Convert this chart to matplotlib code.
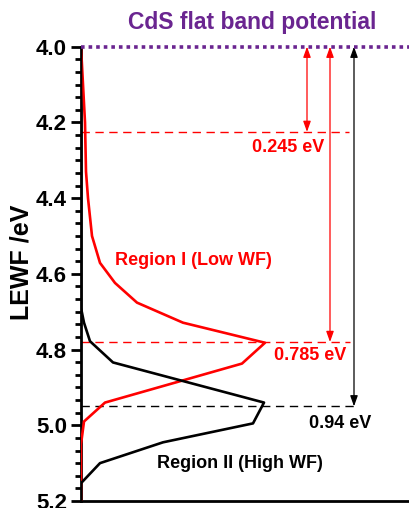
import numpy as np
import matplotlib
matplotlib.use("Agg")
import matplotlib.pyplot as plt
from matplotlib.ticker import MultipleLocator, AutoMinorLocator

plt.rcParams['font.family'] = ['Liberation Sans', 'DejaVu Sans']
plt.rcParams['font.weight'] = 'bold'

# Region I (low WF) distribution: LEWF (eV) vs. counts
red_lewf = [4.0, 4.2, 4.33, 4.4, 4.5, 4.571, 4.624, 4.676, 4.729, 4.782, 4.837, 4.94, 4.99, 5.05, 5.2]
red_count = [0, 4, 5, 7, 11, 19, 34, 56, 102, 184, 161, 24, 3, 0, 0]

# Region II (high WF) distribution
blk_lewf = [4.0, 4.69, 4.729, 4.778, 4.834, 4.94, 4.995, 5.045, 5.1, 5.153, 5.2]
blk_count = [0, 0, 3, 9, 32, 183, 172, 82, 19, 0, 0]

flat_band = 4.0
peak_lewf = [4.225, 4.78, 4.95]        # dashed reference levels
peak_labels = ["0.245 eV", "0.785 eV", "0.94 eV"]
peak_colors = ["red", "red", "black"]

W, H = 409, 508
fig = plt.figure(figsize=(W / 100, H / 100), dpi=100)
ax = fig.add_axes([81 / W, 1 - 501 / H, 328 / W, (501 - 46.7) / H])

ax.plot(red_count, red_lewf, color='red', lw=1.9, zorder=3)
ax.plot(blk_count, blk_lewf, color='black', lw=1.9, zorder=3)

# flat band potential line
ax.axhline(flat_band, color='#6a2590', lw=2.6, ls=(0, (1, 1.1)), zorder=4, clip_on=False)

# dashed levels
dash_ends = [268, 269, 276]
for lv, xe, c in zip(peak_lewf, dash_ends, peak_colors):
    ax.plot([0, xe], [lv, lv], color=c, lw=1.0, ls=(0, (6, 4)), zorder=2)

# arrows from flat band to each level
arrow_x = [226, 249, 273]
for lv, xa, c in zip(peak_lewf, arrow_x, peak_colors):
    ax.annotate('', xy=(xa, lv), xytext=(xa, flat_band),
                arrowprops=dict(arrowstyle='<|-|>,head_width=0.25,head_length=0.7', color=c,
                                lw=0.9, mutation_scale=9, shrinkA=0, shrinkB=0))

label_pos = [(207, 4.265), (229, 4.815), (259, 4.994)]
for (tx, ty), s, c in zip(label_pos, peak_labels, peak_colors):
    ax.text(tx, ty, s, color=c, fontsize=13, fontweight='bold', ha='center', va='center')

ax.text(112, 4.566, "Region I (Low WF)", color='red', fontsize=13, fontweight='bold',
        ha='center', va='center')
ax.text(159, 5.10, "Region II (High WF)", color='black', fontsize=13, fontweight='bold',
        ha='center', va='center')

ax.set_xlim(0, 328)
ax.set_ylim(5.2, 4.0)
ax.yaxis.set_major_locator(MultipleLocator(0.2))
ax.yaxis.set_minor_locator(AutoMinorLocator(6))
ax.yaxis.set_major_formatter(matplotlib.ticker.FormatStrFormatter('%.1f'))
ax.set_xticks([])
for side in ['top', 'right']:
    ax.spines[side].set_visible(False)
for side in ['left', 'bottom']:
    ax.spines[side].set_linewidth(2)
ax.tick_params(axis='y', which='major', length=7, width=2, labelsize=16, pad=3)
ax.tick_params(axis='y', which='minor', length=4, width=2)
for t in ax.get_yticklabels():
    t.set_fontweight('bold')

fig.text(22 / W, 1 - 262 / H, "LEWF /eV", rotation=90, fontsize=18, fontweight='bold',
         ha='center', va='center')
fig.text(252 / W, 1 - 22 / H, "CdS flat band potential", color='#6a2590', fontsize=16.5,
         fontweight='bold', ha='center', va='center')

fig.savefig("out.png", dpi=100)
